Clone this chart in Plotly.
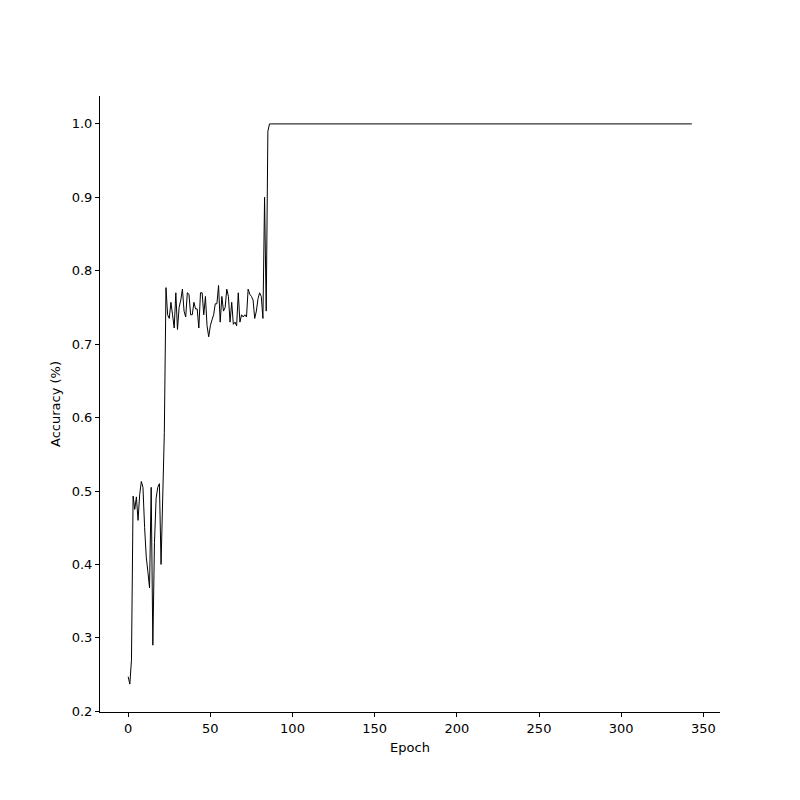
import plotly.graph_objects as go

# accuracy per epoch
early_acc = [0.247, 0.237, 0.270, 0.493, 0.475, 0.492, 0.460, 0.495, 0.513, 0.505,
             0.450, 0.410, 0.390, 0.368, 0.505, 0.290, 0.430, 0.490, 0.505, 0.510,
             0.400, 0.490, 0.580]
noisy_acc = [0.777, 0.740, 0.735, 0.757, 0.740, 0.722, 0.770, 0.720, 0.750, 0.760,
             0.775, 0.745, 0.737, 0.770, 0.768, 0.740, 0.740, 0.757, 0.748, 0.748,
             0.722, 0.770, 0.770, 0.740, 0.765, 0.725, 0.710, 0.725, 0.733, 0.740,
             0.755, 0.755, 0.780, 0.730, 0.765, 0.745, 0.750, 0.775, 0.765, 0.730,
             0.757, 0.727, 0.730, 0.725, 0.770, 0.730, 0.740, 0.737, 0.740, 0.737,
             0.775, 0.768, 0.765, 0.760, 0.735, 0.745, 0.762, 0.770, 0.765, 0.735]
jump_acc = [0.900, 0.745, 0.990]
plateau_acc = [1.0] * 258

accuracy = early_acc + noisy_acc + jump_acc + plateau_acc
epochs = list(range(len(accuracy)))

fig = go.Figure()
fig.add_trace(go.Scatter(x=epochs, y=accuracy, mode="lines",
                         line=dict(color="black", width=1)))

font = dict(family="DejaVu Sans", size=13, color="black")
fig.update_layout(
    width=800, height=800,
    margin=dict(l=92, r=88, t=88, b=96),
    paper_bgcolor="white", plot_bgcolor="white",
    showlegend=False,
    font=font,
)
fig.update_xaxes(
    title=dict(text="Epoch", font=font, standoff=8),
    range=[-17.15, 360.15],
    tickvals=[0, 50, 100, 150, 200, 250, 300, 350],
    showgrid=False, zeroline=False,
    showline=True, linecolor="black", linewidth=1,
    ticks="outside", ticklen=4, tickcolor="black",
)
fig.update_yaxes(
    title=dict(text="Accuracy (%)", font=font, standoff=8),
    range=[0.199, 1.038],
    tickvals=[0.2, 0.3, 0.4, 0.5, 0.6, 0.7, 0.8, 0.9, 1.0],
    ticktext=["0.2", "0.3", "0.4", "0.5", "0.6", "0.7", "0.8", "0.9", "1.0"],
    showgrid=False, zeroline=False,
    showline=True, linecolor="black", linewidth=1,
    ticks="outside", ticklen=4, tickcolor="black",
)

fig.write_html("out.html")
